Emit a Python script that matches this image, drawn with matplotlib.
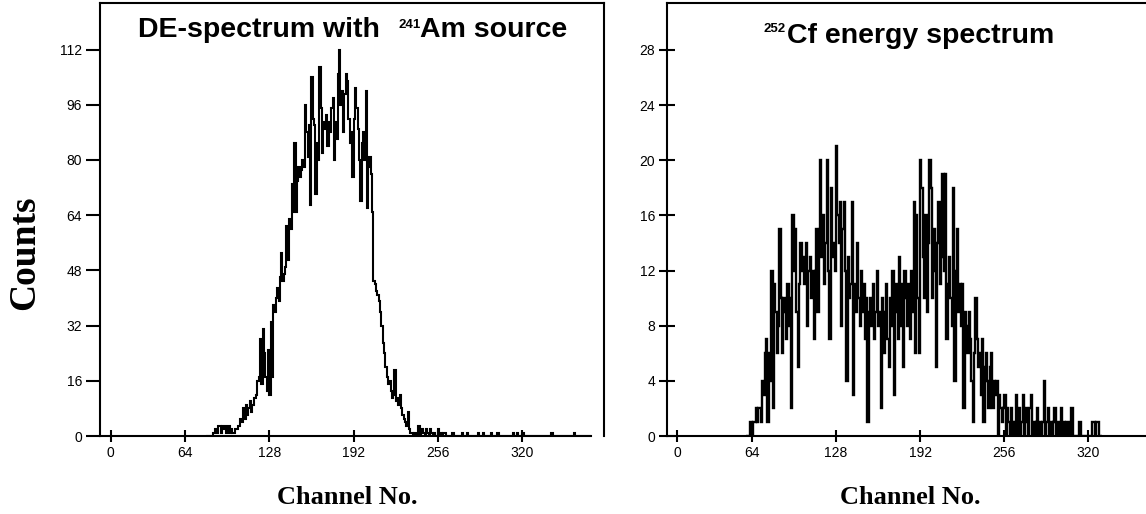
import numpy as np
import matplotlib
matplotlib.use("Agg")
import matplotlib.pyplot as plt

plt.rcParams['font.family'] = ['Liberation Sans', 'DejaVu Sans']

# --- 241Am DE-spectrum, counts per channel starting at channel 80
am_start = 80
am_counts = [
    0, 0, 0, 0, 0,
    1, 1, 2, 1, 3, 3, 1, 3, 2, 3, 1, 1, 3, 1, 2, 1, 1, 2, 2, 3,
    3, 5, 4, 8, 5, 9, 6, 8, 10, 7, 9, 11,
    11, 12, 16, 17, 28, 15, 31, 24, 17, 13, 25,
    12, 33, 17, 38, 36, 40, 43, 39, 46,
    53, 45, 47, 49, 61, 51, 63, 60, 73, 65,
    85, 65, 74, 78, 75, 77, 80, 78, 96, 88,
    81, 90, 67, 104, 92, 90, 70, 85, 80, 107,
    95, 82, 91, 89, 93, 84, 91, 88, 95, 98,
    80, 91, 86, 105, 112, 96, 100, 88, 99, 105,
    103, 92, 85, 88, 75, 92, 101, 95, 89, 80,
    68, 85, 88, 80, 100, 66, 78, 81, 76, 65,
    45, 44, 42, 41, 39, 36, 32, 27, 24, 20,
    17, 15, 16, 13, 11, 12, 19, 10, 11, 9,
    12, 8, 6, 5, 4, 3, 7, 2, 1, 1,
    0, 1, 0, 0, 3, 0, 1, 2, 1, 0, 2, 1, 0, 2,
    1, 0, 1, 0, 0, 2, 0, 1, 0, 1, 1, 0,
]
# isolated single counts in the tail
am_tail_channels = [267, 274, 278, 286, 290, 296, 301, 313, 316, 320, 342, 359]
am_end = 372

# --- 252Cf energy spectrum, counts per channel starting at channel 60
cf_start = 60
cf_counts = [
    0, 0, 0,
    1, 0, 1, 1, 2, 1, 2, 2, 1,
    4, 3, 6, 7,
    1, 6, 4, 12, 2, 11, 9, 6, 8, 15, 10, 6, 10, 9, 7, 11, 8, 10, 2, 16,
    12, 15, 9, 5, 11, 14, 12, 13, 11, 14, 8, 12, 13, 10, 12, 7, 12, 15, 9, 15,
    20, 13, 16, 11, 14, 20, 12, 7, 18, 13, 14, 12, 21, 16, 14, 17, 8, 15, 17, 12,
    4, 13, 10, 11, 17, 3, 11, 9, 14, 10, 8, 12, 9, 11, 7, 10, 1, 9, 10, 8,
    11, 7, 9, 12, 8, 9, 2, 10, 6, 9, 11, 7, 5, 10, 8, 12, 3, 9, 11, 7,
    13, 8, 11, 5, 12, 10, 8, 11, 7, 12, 9, 17, 6, 16, 10, 6, 20, 18, 13, 10,
    16, 9, 14, 20, 18, 10, 15, 12, 5, 14, 17, 11, 13, 19, 12, 19, 7, 11, 13, 10,
    8, 18, 4, 12, 15, 9, 11, 8, 11, 2, 9, 8, 6, 9, 7, 4, 1, 6, 10, 7,
    5, 6, 3, 7, 1, 5, 6, 4, 2, 5, 6, 2, 4, 3, 4, 0, 3, 2, 1, 2,
    3, 0, 2, 1, 0, 2, 1, 0, 1, 3, 0, 2, 0, 1, 3, 0, 2, 1, 0, 2,
    3, 0, 1, 0, 1, 2, 0, 1, 0, 1, 4, 0, 1, 2, 0, 1, 0, 1, 2, 0,
    1, 0, 1, 2, 0, 1, 0, 1, 0, 1, 0, 2, 0, 0, 0, 0, 0, 1, 0, 0,
    0, 0, 0, 0, 0, 0, 0, 1, 1, 0, 1, 1, 0, 0,
]

x_ticks = [7.5, 64, 128, 192, 256, 320]
x_ticklabels = ['0', '64', '128', '192', '256', '320']
am_yticks = [0, 16, 32, 48, 64, 80, 96, 112]
cf_yticks = [0, 4, 8, 12, 16, 20, 24, 28]

# full Am array including the sparse tail
am_full = np.zeros(am_end - am_start)
am_full[:len(am_counts)] = am_counts
for ch in am_tail_channels:
    am_full[ch - am_start] = 1
am_edges = np.arange(am_start, am_end + 1)
cf_edges = np.arange(cf_start, cf_start + len(cf_counts) + 1)

fig = plt.figure(figsize=(11.46, 5.14), dpi=100)
ax1 = fig.add_axes([100 / 1146, 78 / 514, 504 / 1146, 433 / 514])
ax2 = fig.add_axes([667 / 1146, 78 / 514, 503 / 1146, 433 / 514])

ax1.stairs(am_full, am_edges, color='black', lw=1.5)
ax2.stairs(cf_counts, cf_edges, color='black', lw=1.7)

ax1.set_xlim(-0.5, 382)
ax1.set_ylim(0, 125.5)
ax2.set_xlim(-0.4, 382)
ax2.set_ylim(0, 31.4)

for ax, yt in [(ax1, am_yticks), (ax2, cf_yticks)]:
    for s in ax.spines.values():
        s.set_linewidth(1.5)
    ax.set_xticks(x_ticks)
    ax.set_xticklabels(x_ticklabels)
    ax.set_yticks(yt)
    ax.tick_params(axis='x', direction='inout', length=9, width=1.5, pad=3, labelsize=10)
ax1.tick_params(axis='y', direction='out', length=10, width=1.5, pad=3, labelsize=10)
ax2.tick_params(axis='y', direction='inout', length=11, width=1.5, pad=3, labelsize=10)
ax1.spines['bottom'].set_bounds(-0.5, am_end)

# titles, built from pieces so the isotope number sits as a small superscript
ax1.text(0.0754, 0.921, 'DE-spectrum with', transform=ax1.transAxes,
         ha='left', va='baseline', fontsize=20.5, fontweight='bold')
ax1.text(0.593, 0.942, '241', transform=ax1.transAxes,
         ha='left', va='baseline', fontsize=9.5, fontweight='bold')
ax1.text(0.635, 0.921, 'Am source', transform=ax1.transAxes,
         ha='left', va='baseline', fontsize=20.5, fontweight='bold')
ax2.text(0.191, 0.933, '252', transform=ax2.transAxes,
         ha='left', va='baseline', fontsize=9.5, fontweight='bold')
ax2.text(0.2386, 0.907, 'Cf energy spectrum', transform=ax2.transAxes,
         ha='left', va='baseline', fontsize=20.5, fontweight='bold')

fig.text(25 / 1146, 1 - 253 / 514, 'Counts', rotation=90, ha='center', va='center',
         family='Liberation Serif', fontweight='bold', fontsize=27)
fig.text(347 / 1146, 1 - 497 / 514, 'Channel No.', ha='center', va='center',
         family='Liberation Serif', fontweight='bold', fontsize=19)
fig.text(910 / 1146, 1 - 497 / 514, 'Channel No.', ha='center', va='center',
         family='Liberation Serif', fontweight='bold', fontsize=19)

fig.savefig('out.png', dpi=100)
